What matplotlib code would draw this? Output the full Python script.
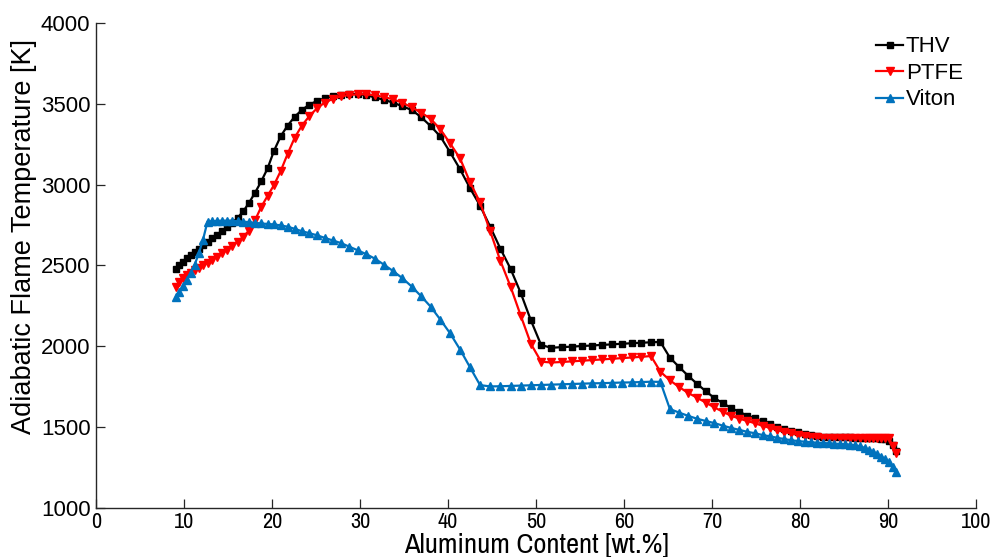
import numpy as np
from matplotlib import pyplot as plt
from matplotlib import font_manager

# Al mass fraction grid (wt.%), log-spaced in Al/binder ratio 0.1 .. 10
al_content = [
    9.09, 9.48, 9.89, 10.31, 10.75, 11.21, 11.68, 12.16, 12.67, 13.19,
    13.74, 14.30, 14.88, 15.47, 16.09, 16.73, 17.39, 18.07, 18.77, 19.49,
    20.23, 20.99, 21.77, 22.57, 23.39, 24.24, 25.10, 25.99, 26.89, 27.82,
    28.76, 29.73, 30.71, 31.70, 32.72, 33.75, 34.80, 35.87, 36.94, 38.03,
    39.13, 40.24, 41.37, 42.50, 43.64, 44.79, 45.94, 47.10, 48.26, 49.42,
    50.58, 51.74, 52.91, 54.06, 55.22, 56.36, 57.50, 58.63, 59.76, 60.87,
    61.97, 63.06, 64.13, 65.21, 66.26, 67.28, 68.30, 69.29, 70.27, 71.24,
    72.18, 73.11, 74.01, 74.90, 75.76, 76.61, 77.43, 78.23, 79.02, 79.77,
    80.52, 81.23, 81.93, 82.61, 83.27, 83.91, 84.53, 85.12, 85.70, 86.26,
    86.81, 87.33, 87.84, 88.32, 88.80, 89.25, 89.69, 90.11, 90.52, 90.91,
]

temp_thv = [
    2480, 2500, 2522, 2545, 2565, 2585, 2605, 2625, 2647, 2667,
    2690, 2714, 2738, 2763, 2795, 2835, 2888, 2950, 3020, 3100,
    3210, 3300, 3365, 3420, 3462, 3495, 3518, 3535, 3547, 3556,
    3561, 3560, 3553, 3540, 3524, 3508, 3485, 3462, 3418, 3362,
    3298, 3200, 3095, 2978, 2870, 2740, 2605, 2480, 2330, 2160,
    2008, 1991, 1995, 1998, 2002, 2005, 2009, 2012, 2016, 2019,
    2022, 2025, 2027, 1930, 1872, 1818, 1768, 1722, 1680, 1648,
    1618, 1594, 1572, 1555, 1535, 1519, 1502, 1490, 1479, 1469,
    1460, 1452, 1446, 1442, 1440, 1439, 1438, 1437, 1437, 1436,
    1436, 1435, 1434, 1433, 1431, 1429, 1426, 1415, 1390, 1355,
]

temp_ptfe = [
    2370, 2400, 2425, 2442, 2456, 2470, 2485, 2500, 2518, 2535,
    2553, 2575, 2597, 2620, 2647, 2678, 2716, 2780, 2862, 2930,
    2998, 3085, 3190, 3290, 3365, 3424, 3472, 3508, 3530, 3546,
    3555, 3559, 3559, 3553, 3542, 3528, 3507, 3478, 3446, 3407,
    3342, 3255, 3162, 3015, 2890, 2712, 2530, 2370, 2190, 2015,
    1905, 1900, 1903, 1907, 1911, 1915, 1919, 1923, 1927, 1931,
    1935, 1940, 1843, 1790, 1748, 1712, 1682, 1652, 1622, 1595,
    1570, 1553, 1538, 1524, 1508, 1495, 1482, 1470, 1461, 1453,
    1446, 1440, 1437, 1436, 1436, 1436, 1435, 1435, 1435, 1434,
    1434, 1434, 1434, 1433, 1433, 1433, 1432, 1430, 1385, 1338,
]

temp_viton = [
    2303, 2335, 2372, 2412, 2455, 2505, 2575, 2660, 2772, 2774,
    2776, 2777, 2777, 2776, 2774, 2771, 2768, 2764, 2760, 2757,
    2754, 2748, 2740, 2727, 2712, 2700, 2687, 2671, 2655, 2639,
    2617, 2594, 2570, 2542, 2505, 2466, 2422, 2370, 2310, 2245,
    2165, 2080, 1980, 1870, 1760, 1752, 1753, 1755, 1757, 1759,
    1761, 1763, 1765, 1767, 1769, 1771, 1772, 1774, 1776, 1777,
    1779, 1781, 1780, 1612, 1590, 1570, 1552, 1538, 1525, 1509,
    1495, 1483, 1471, 1462, 1451, 1443, 1434, 1426, 1419, 1414,
    1410, 1407, 1404, 1402, 1400, 1398, 1396, 1394, 1392, 1388,
    1381, 1372, 1360, 1347, 1333, 1318, 1300, 1282, 1255, 1222,
]

series = [
    ("THV", temp_thv, "k", "s", 4.6),
    ("PTFE", temp_ptfe, "#ff0000", "v", 5.5),
    ("Viton", temp_viton, "#0072bd", "^", 5.5),
]

plt.rcParams['font.family'] = ['Liberation Sans', 'DejaVu Sans']

# x axis text in the reference is a condensed face; use one if installed
narrow_files = [f for f in font_manager.fontManager.ttflist
                if ('narrow' in f.name.lower() or 'condensed' in f.name.lower()
                    or 'condensed' in str(f.stretch))
                and 'bold' not in str(f.weight) and f.style == 'normal']
narrow_files.sort(key=lambda f: ('narrow' not in f.name.lower(), f.name))
if narrow_files:
    narrow = font_manager.FontProperties(fname=narrow_files[0].fname)
else:
    narrow = font_manager.FontProperties(family='Liberation Sans')

fig = plt.figure(figsize=(9.97, 5.57), dpi=100)
ax = fig.add_axes([0.0963, 0.088, 0.8827, 0.8707])

for name, temps, color, marker, ms in series:
    ax.plot(al_content, temps, color=color, marker=marker, markersize=ms,
            linewidth=1.6, label=name)

ax.set_xlim(0, 100)
ax.set_ylim(1000, 4000)
ax.set_xticks(np.arange(0, 101, 10))
ax.set_yticks(np.arange(1000, 4001, 500))

for side in ['top', 'right']:
    ax.spines[side].set_visible(False)
for side in ['left', 'bottom']:
    ax.spines[side].set_color('#262626')
    ax.spines[side].set_linewidth(1.0)

ax.tick_params(direction='in', length=6.3, width=0.9, color='#262626')
ax.tick_params(axis='y', labelsize=16, pad=4)
ax.tick_params(axis='x', pad=3)

ax.set_xlabel('Aluminum Content [wt.%]', fontproperties=narrow)
ax.xaxis.set_label_coords(0.5, -0.078)
ax.xaxis.label.set_va('center')
ax.set_ylabel('Adiabatic Flame Temperature [K]', fontsize=19.5)
ax.yaxis.set_label_coords(-0.082, 0.56)
ax.yaxis.label.set_va('center')

# size the condensed texts so their widths match the reference
renderer = fig.canvas.get_renderer()
xlab = ax.xaxis.label
xlab.set_fontsize(20)
w = xlab.get_window_extent(renderer).width
xlab.set_fontsize(min(21, 20 * 264 / w))

probe = fig.text(0, 0, '100', fontproperties=narrow, fontsize=16)
w = probe.get_window_extent(renderer).width
probe.remove()
tick_size = min(16, 16 * 33 / w)
for lbl in ax.get_xticklabels():
    lbl.set_fontproperties(narrow)
    lbl.set_fontsize(tick_size)

ax.legend(loc='upper right', bbox_to_anchor=(1.0, 1.0), frameon=False,
          fontsize=16, numpoints=1, handlelength=1.2, handletextpad=0.12,
          labelspacing=0.25, borderaxespad=0.2)

fig.savefig('out.png', dpi=100)
